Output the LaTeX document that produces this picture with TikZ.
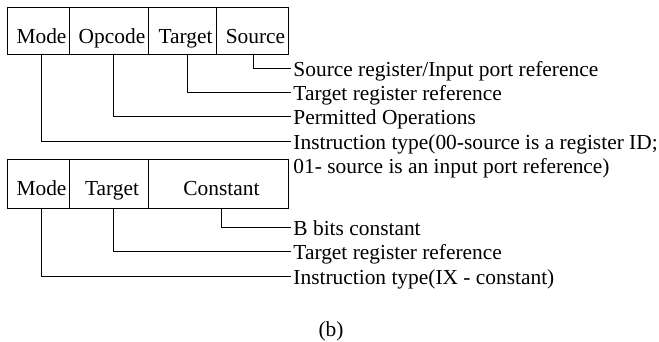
\documentclass[tikz,border=0pt]{standalone}
\usepackage{fontspec}
\setmainfont{Liberation Serif}
\usetikzlibrary{positioning}

\begin{document}
\begin{tikzpicture}[x=1pt, y=-1pt, font=\fontsize{21.4}{24}\selectfont, line width=0.9pt]
	\useasboundingbox (0,0) rectangle (659,341);

	% register instruction
	\begin{scope}[every node/.style={draw, inner sep=0pt, outer sep=0pt, text height=36pt, text depth=11pt,
	              execute at begin node=\hspace*{7pt}}]
		\node[anchor=north west, minimum width=62pt] (mode) at (7,7) {Mode};
		\node[minimum width=79pt, right=0pt of mode] (opcode) {Opcode};
		\node[minimum width=68pt, right=0pt of opcode] (target) {Target};
		\node[minimum width=72pt, right=0pt of target] (source) {Source};
	\end{scope}

	% constant instruction
	\begin{scope}[every node/.style={draw, inner sep=0pt, outer sep=0pt, text height=36pt, text depth=13pt,
	              execute at begin node=\hspace*{7pt}}]
		\node[anchor=north west, minimum width=62pt] (cmode) at (7,159) {Mode};
		\node[minimum width=79pt, right=0pt of cmode] (ctarget) {Target};
		\node[minimum width=140pt, right=0pt of ctarget] (cconst) {Constant};
	\end{scope}

	\begin{scope}[every node/.style={anchor=west, inner ysep=0pt, inner xsep=2pt, text height=16pt, text depth=0pt}]
		\node (srcLab) at (291,68) {Source register/Input port reference};
		\node (tgtLab) at (291,92) {Target register reference};
		\node (opLab) at (291,116) {Permitted Operations};
		\node (modeLab) at (291,141) {Instruction type(00-source is a register ID;};
		\node (modeLabB) at (291,165) {01- source is an input port reference)};
		\node (constLab) at (291,227) {B bits constant};
		\node (ctgtLab) at (291,251) {Target register reference};
		\node (cmodeLab) at (291,276) {Instruction type(IX - constant)};
	\end{scope}

	\node (caption) at (331,331) {(b)};

	\foreach \cell/\lab/\dx in {source/srcLab/1, target/tgtLab/5, opcode/opLab/4.5, mode/modeLab/3,
	                            cconst/constLab/3, ctarget/ctgtLab/4.5, cmode/cmodeLab/3}
		{\draw ([xshift=\dx pt]\cell.south) |- (\lab.west);}
\end{tikzpicture}
\end{document}
